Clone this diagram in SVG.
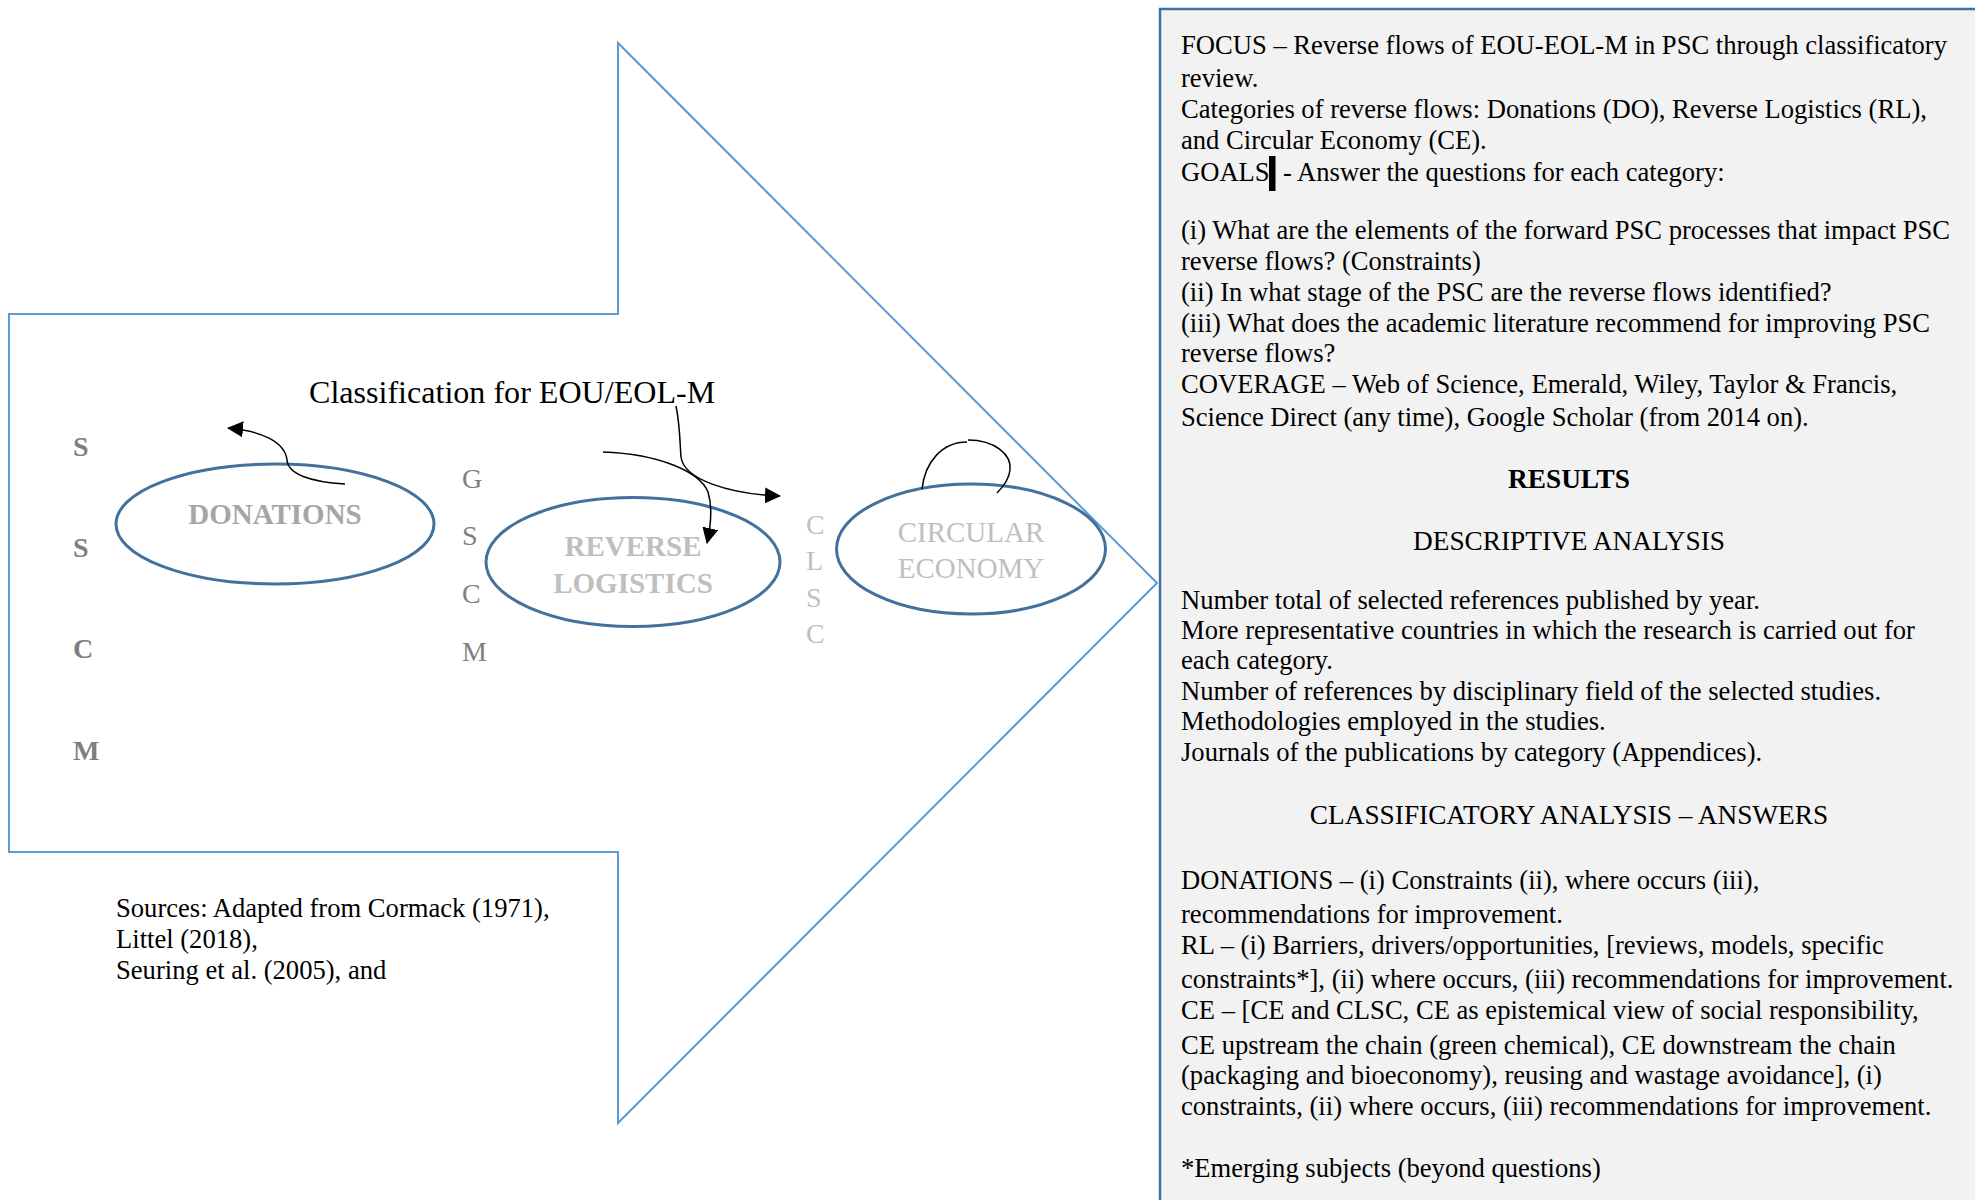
<svg xmlns="http://www.w3.org/2000/svg" width="1975" height="1200" viewBox="0 0 1975 1200">
  <style>
    .serif { font-family: "Liberation Serif", "Times New Roman", serif; }
    .body { font-size: 26.6px; fill: #000; }
    .head { font-size: 27.3px; fill: #000; text-anchor: middle; }
    .bigarrow { fill: #fff; stroke: #5b9bd5; stroke-width: 2; }
    .panel { fill: #f2f2f2; stroke: #41719c; stroke-width: 2.5; }
    .node { fill: none; stroke: #41719c; stroke-width: 3; }
    .lbl { font-size: 29px; text-anchor: middle; }
    .acr { font-size: 28px; }
    .flow { fill: none; stroke: #000; stroke-width: 1.5; }
  </style>
  <defs>
    <marker id="head" viewBox="0 0 16 16" refX="15" refY="8" markerWidth="16" markerHeight="16" markerUnits="userSpaceOnUse" orient="auto">
      <path d="M0,0 L16,8 L0,16 Z" fill="#000"/>
    </marker>
  </defs>

  <rect width="1975" height="1200" fill="#fff"/>

  <!-- summary panel on the right -->
  <g id="summary-panel">
    <rect class="panel" x="1160" y="9" width="900" height="1300"/>
    <g class="serif">
      <text class="body" x="1181" y="54">FOCUS – Reverse flows of EOU-EOL-M in PSC through classificatory</text>
      <text class="body" x="1181" y="87">review.</text>
      <text class="body" x="1181" y="118">Categories of reverse flows: Donations (DO), Reverse Logistics (RL),</text>
      <text class="body" x="1181" y="149">and Circular Economy (CE).</text>
      <text class="body" x="1181" y="181">GOALS</text>
      <rect x="1269" y="156" width="6.5" height="35" fill="#000"/>
      <text class="body" x="1283" y="181">- Answer the questions for each category:</text>
      <text class="body" x="1181" y="239">(i) What are the elements of the forward PSC processes that impact PSC</text>
      <text class="body" x="1181" y="270">reverse flows? (Constraints)</text>
      <text class="body" x="1181" y="301">(ii) In what stage of the PSC are the reverse flows identified?</text>
      <text class="body" x="1181" y="332">(iii) What does the academic literature recommend for improving PSC</text>
      <text class="body" x="1181" y="362">reverse flows?</text>
      <text class="body" x="1181" y="393">COVERAGE – Web of Science, Emerald, Wiley, Taylor &amp; Francis,</text>
      <text class="body" x="1181" y="426">Science Direct (any time), Google Scholar (from 2014 on).</text>
      <text class="head" x="1569" y="488" font-weight="bold">RESULTS</text>
      <text class="head" x="1569" y="550">DESCRIPTIVE ANALYSIS</text>
      <text class="body" x="1181" y="609">Number total of selected references published by year.</text>
      <text class="body" x="1181" y="639">More representative countries in which the research is carried out for</text>
      <text class="body" x="1181" y="669">each category.</text>
      <text class="body" x="1181" y="700">Number of references by disciplinary field of the selected studies.</text>
      <text class="body" x="1181" y="730">Methodologies employed in the studies.</text>
      <text class="body" x="1181" y="761">Journals of the publications by category (Appendices).</text>
      <text class="head" x="1569" y="824">CLASSIFICATORY ANALYSIS – ANSWERS</text>
      <text class="body" x="1181" y="889">DONATIONS – (i) Constraints (ii), where occurs (iii),</text>
      <text class="body" x="1181" y="923">recommendations for improvement.</text>
      <text class="body" x="1181" y="954">RL – (i) Barriers, drivers/opportunities, [reviews, models, specific</text>
      <text class="body" x="1181" y="988">constraints*], (ii) where occurs, (iii) recommendations for improvement.</text>
      <text class="body" x="1181" y="1019">CE – [CE and CLSC, CE as epistemical view of social responsibility,</text>
      <text class="body" x="1181" y="1054">CE upstream the chain (green chemical), CE downstream the chain</text>
      <text class="body" x="1181" y="1084">(packaging and bioeconomy), reusing and wastage avoidance], (i)</text>
      <text class="body" x="1181" y="1115">constraints, (ii) where occurs, (iii) recommendations for improvement.</text>
      <text class="body" x="1181" y="1177">*Emerging subjects (beyond questions)</text>
    </g>
  </g>

  <!-- large block arrow framing the classification -->
  <g id="frame-arrow">
    <path class="bigarrow" d="M9,314 L618,314 L618,43 L1157,583 L618,1123 L618,852 L9,852 Z"/>
  </g>

  <!-- chain labels -->
  <g id="sscm" class="serif acr" fill="#7f7f7f" font-weight="bold">
    <text x="73" y="456">S</text>
    <text x="73" y="557">S</text>
    <text x="73" y="658">C</text>
    <text x="73" y="760">M</text>
  </g>
  <g id="gscm" class="serif acr" fill="#7f7f7f">
    <text x="462" y="488">G</text>
    <text x="462" y="545">S</text>
    <text x="462" y="603">C</text>
    <text x="462" y="661">M</text>
  </g>
  <g id="clsc" class="serif acr" fill="#bfbfbf">
    <text x="806" y="534">C</text>
    <text x="806" y="570">L</text>
    <text x="806" y="607">S</text>
    <text x="806" y="643">C</text>
  </g>

  <g id="title">
    <text class="serif" x="309" y="403" font-size="32.1" fill="#000">Classification for EOU/EOL-M</text>
  </g>

  <!-- category nodes -->
  <g id="node-donations">
    <ellipse class="node" cx="275" cy="524" rx="159" ry="60"/>
    <text class="serif lbl" x="275" y="524" font-size="29.8" font-weight="bold" fill="#a6a6a6">DONATIONS</text>
  </g>
  <g id="node-reverse-logistics">
    <ellipse class="node" cx="633" cy="562" rx="147" ry="64.5"/>
    <text class="serif lbl" x="633" y="556" font-weight="bold" fill="#bfbfbf">REVERSE</text>
    <text class="serif lbl" x="633" y="593" font-weight="bold" fill="#bfbfbf">LOGISTICS</text>
  </g>
  <g id="node-circular-economy">
    <ellipse class="node" cx="971" cy="549" rx="134.5" ry="65"/>
    <text class="serif lbl" x="971" y="542" fill="#bfbfbf">CIRCULAR</text>
    <text class="serif lbl" x="971" y="578" fill="#bfbfbf">ECONOMY</text>
  </g>

  <!-- flow connectors -->
  <g id="connectors">
    <path class="flow" d="M345,484 C310,482 288,474 287,460 C285,442 262,431 228,428" marker-end="url(#head)"/>
    <path class="flow" d="M676,406 C680,425 680,445 681,457 C684,480 730,494 780,496" marker-end="url(#head)"/>
    <path class="flow" d="M603,452 C660,454 700,472 708,492 C712,505 711,525 707,543" marker-end="url(#head)"/>
    <path class="flow" d="M922,489 C925,462 942,442 967,442"/>
    <path class="flow" d="M968,440 C995,440 1012,455 1010,470 C1009,480 1003,487 997,493"/>
  </g>

  <g id="sources">
    <text class="serif body" x="116" y="917" font-size="26.7">Sources: Adapted from Cormack (1971),</text>
    <text class="serif body" x="116" y="948" font-size="26.7">Littel (2018),</text>
    <text class="serif body" x="116" y="979" font-size="26.7">Seuring et al. (2005), and</text>
  </g>
</svg>
